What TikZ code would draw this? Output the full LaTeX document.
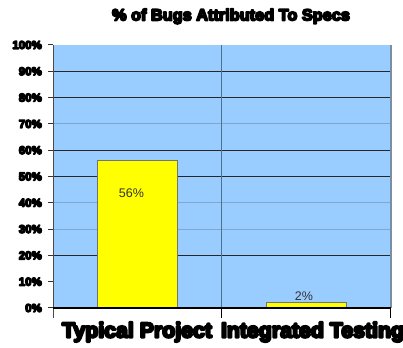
\documentclass[tikz,border=0pt]{standalone}
\usepackage{fontspec}
\setmainfont{Liberation Sans}
% heavier glyphs: fill and stroke the outlines
\newcommand{\thick}[2]{\special{pdf:literal direct 0 G #1 w 1 j 2 Tr}#2\special{pdf:literal direct 0 Tr}}
\definecolor{plotbg}{HTML}{99CCFF}
\definecolor{barfill}{HTML}{FFFF00}
\definecolor{minorgrid}{HTML}{7FA6CF}
\definecolor{divider}{HTML}{50708F}
\definecolor{edge}{HTML}{7A8EA6}
\begin{document}
\begin{tikzpicture}[x=1pt,y=1pt,
  majorline/.style={draw=black!85, line width=1.1pt},
  minorline/.style={draw=minorgrid, line width=0.8pt},
  bar/.style={draw=black!55, line width=0.6pt, fill=barfill},
  ylab/.style={anchor=east, inner sep=0pt, font=\bfseries\fontsize{11.5}{12}\selectfont},
  catlab/.style={anchor=base, inner sep=0pt, font=\bfseries\fontsize{21.3}{23}\selectfont},
  vallab/.style={inner sep=0pt, text=black!80, font=\fontsize{12.5}{14}\selectfont}]
\useasboundingbox (0,0) rectangle (403,347);
% plot area
\fill[plotbg] (53,39) rectangle (391,302);
% grid lines (every 10 %)
\foreach \p in {70,40,30}
  \draw[minorline] (53,{39+2.63*\p}) -- (390,{39+2.63*\p});
\foreach \p in {90,80,60,50,20}
  \draw[majorline] (53,{39+2.63*\p}) -- (390,{39+2.63*\p});
% category divider and right edge
\draw[divider, line width=1.2pt] (221.7,39) -- (221.7,302);
\draw[edge, line width=2pt] (390.5,39) -- (390.5,302);
% bars
\node[bar, minimum width=80.6pt, minimum height={2.63*56}, inner sep=0pt, anchor=south west] (b1) at (96.7,39) {};
\node[bar, minimum width=80pt, minimum height={2.63*2}, inner sep=0pt, anchor=south west] (b2) at (265.7,39) {};
\node[vallab] (v1) at (131.5,154) {56\%};
\node[vallab] (v2) at (304,50.5) {2\%};
% axes
\draw[black!70, line width=0.8pt] (53,302) -- (53,29);
\foreach \p in {0,10,...,100}
  \draw[black!80, line width=1pt] (48,{39+2.63*\p}) -- (53,{39+2.63*\p});
\foreach \p in {0,10,...,100}
  \node[ylab] (y\p) at (42,{39+2.63*\p}) {\thick{1.3}{\p\%}};
\draw[black, line width=1.4pt] (53,39) -- (391,39);
\foreach \x in {221.7,390}
  \draw[black, line width=1pt] (\x,39) -- (\x,29);
% labels
\node[catlab] (c1) at (137,9.5) {\thick{2.2}{Typical Project}};
\node[catlab] (c2) at (312.5,9.5) {\thick{2.2}{Integrated Testing}};
\node[anchor=base, inner sep=0pt, font=\bfseries\fontsize{16.3}{18}\selectfont] (title) at (231,326.5) {\thick{1.7}{\% of Bugs Attributed To Specs}};
\end{tikzpicture}
\end{document}
